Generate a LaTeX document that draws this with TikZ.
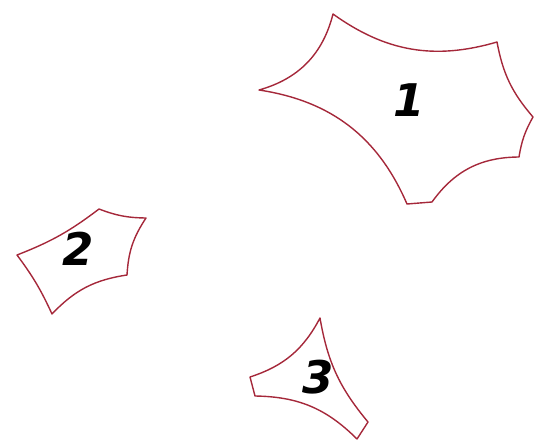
\documentclass[tikz,border=0pt]{standalone}
\usepackage{fontspec}
\setmainfont{DejaVu Sans}
\definecolor{edgered}{RGB}{165,40,58}
\tikzset{
  region/.style={draw=edgered, line width=1.4pt, line join=round},
  lbl/.style={font=\fontsize{45}{45}\selectfont\bfseries\itshape, inner sep=0pt}
}
\begin{document}
\begin{tikzpicture}[x=1pt,y=-1pt]
\useasboundingbox (0,0) rectangle (535,442);
% region 1
\coordinate (a1) at (259,90);
\coordinate (a2) at (333,14);
\coordinate (a3) at (497,42);
\coordinate (a4) at (533,117);
\coordinate (a5) at (519,157);
\coordinate (a6) at (432,202);
\coordinate (a7) at (407,204);
\draw[region] (a1) to[bend right=30] (a2) to[bend right=26] (a3) to[bend right=15] (a4)
  to[bend right=10] (a5) to[bend right=27] (a6) -- (a7) to[bend right=29] (a1) -- cycle;
% region 2
\coordinate (b1) at (146,218);
\coordinate (b2) at (127,275);
\coordinate (b3) at (52,314);
\coordinate (b4) at (17,255);
\coordinate (b5) at (99,209);
\draw[region] (b1) to[bend right=15] (b2) to[bend right=19] (b3) to[bend right=6] (b4)
  to[bend right=8] (b5) to[bend right=10] (b1) -- cycle;
% region 3
\coordinate (c1) at (320,318);
\coordinate (c2) at (368,422);
\coordinate (c3) at (357,439);
\coordinate (c4) at (255,396);
\coordinate (c5) at (250,377);
\draw[region] (c1) to[bend right=15] (c2) -- (c3) to[bend right=22] (c4) -- (c5)
  to[bend right=22] (c1) -- cycle;
% labels
\node[lbl] (n1) at (409,100) {1};
\node[lbl] (n2) at (78,249) {2};
\node[lbl] (n3) at (318,377) {3};
\end{tikzpicture}
\end{document}
